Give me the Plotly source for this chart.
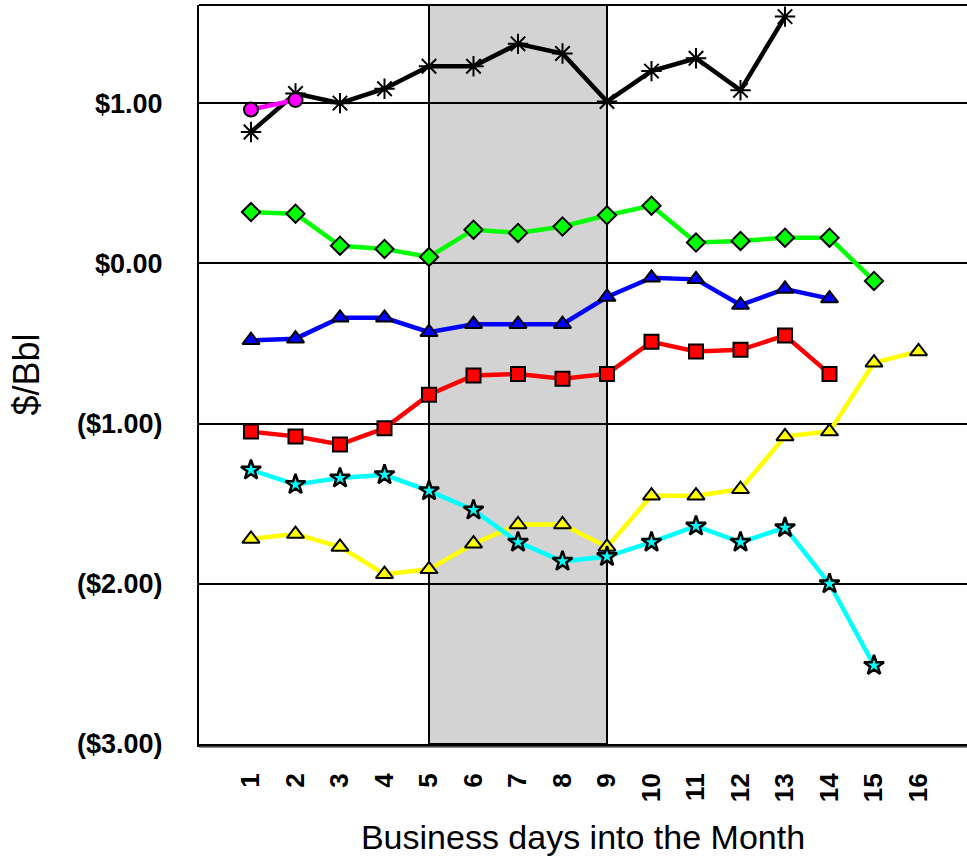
import plotly.graph_objects as go

# Business day index along the x axis
days = list(range(1, 17))
day_labels = [str(d) for d in days]

# Price spreads in $/Bbl by business day
black_vals = [0.82, 1.06, 1.00, 1.09, 1.23, 1.23, 1.37, 1.31, 1.01, 1.20, 1.28, 1.08, 1.54]
magenta_vals = [0.96, 1.02]
green_vals = [0.32, 0.31, 0.11, 0.09, 0.04, 0.21, 0.19, 0.23, 0.30, 0.36, 0.13, 0.14, 0.16, 0.16, -0.11]
blue_vals = [-0.48, -0.47, -0.34, -0.34, -0.43, -0.38, -0.38, -0.38, -0.21, -0.09, -0.10, -0.26, -0.16, -0.22]
red_vals = [-1.05, -1.08, -1.13, -1.03, -0.82, -0.70, -0.69, -0.72, -0.69, -0.49, -0.55, -0.54, -0.45, -0.69]
cyan_vals = [-1.29, -1.38, -1.34, -1.32, -1.42, -1.54, -1.74, -1.86, -1.83, -1.74, -1.64, -1.74, -1.65, -2.00, -2.51]
yellow_vals = [-1.72, -1.69, -1.77, -1.94, -1.91, -1.75, -1.63, -1.63, -1.77, -1.45, -1.45, -1.41, -1.08, -1.05, -0.62, -0.55]

# Value-axis ticks
y_ticks = [1, 0, -1, -2, -3]
y_tick_labels = ["$1.00", "$0.00", "($1.00)", "($2.00)", "($3.00)"]

# Highlighted window of business days
window_start, window_end = 5, 9

FONT = "Liberation Sans, Arial, sans-serif"

series = [
    (yellow_vals, "#FFFF00", "triangle-up", 15, 2),
    (cyan_vals, "#00FFFF", "star", 15, 2.5),
    (red_vals, "#FF0000", "square", 14, 2),
    (blue_vals, "#0000FF", "triangle-up", 15, 2),
    (green_vals, "#00FF00", "diamond", 14, 2),
    (black_vals, "#000000", "asterisk-open", 17, 2),
    (magenta_vals, "#FF00FF", "circle", 14, 2),
]

fig = go.Figure()
for vals, color, symbol, size, edge in series:
    fig.add_trace(go.Scatter(
        x=days[:len(vals)],
        y=vals,
        mode="lines+markers",
        line=dict(color=color, width=4.5),
        marker=dict(symbol=symbol, size=size, color=color,
                    line=dict(color="#000000", width=edge)),
        showlegend=False,
        hoverinfo="x+y",
    ))

x_left = 1 - 52 / 44.5
x_right = 1 + 716 / 44.5

# Gray band over the highlighted days, outlined by vertical rules
fig.add_shape(type="rect", xref="x", yref="paper",
              x0=window_start, x1=window_end, y0=0, y1=1,
              fillcolor="#D3D3D3", line=dict(color="#000000", width=2),
              layer="between")
# Top frame line
fig.add_shape(type="line", xref="paper", yref="paper",
              x0=0, x1=1, y0=1, y1=1,
              line=dict(color="#000000", width=2), layer="above")
# Soft gray shadow under the category axis
fig.add_shape(type="line", xref="paper", yref="paper",
              x0=0, x1=1, y0=-0.0045, y1=-0.0045,
              line=dict(color="#8C8C8C", width=1.5), layer="above")

fig.update_layout(
    width=967, height=862,
    margin=dict(l=199, r=0, t=5, b=118),
    paper_bgcolor="#FFFFFF",
    plot_bgcolor="#FFFFFF",
    font=dict(family=FONT, color="#000000"),
    xaxis=dict(
        range=[x_left, x_right],
        tickmode="array", tickvals=days, ticktext=day_labels,
        tickangle=-90,
        tickfont=dict(size=26, family=FONT, weight="bold"),
        ticklabelstandoff=16,
        showgrid=False, zeroline=False,
        showline=True, linecolor="#000000", linewidth=3,
        ticks="",
        title=dict(text="Business days into the Month",
                   font=dict(size=34, family=FONT),
                   standoff=24),
    ),
    yaxis=dict(
        range=[-3, 1.6125],
        tickmode="array", tickvals=y_ticks, ticktext=y_tick_labels,
        tickfont=dict(size=27, family=FONT, weight="bold"),
        ticklabelstandoff=29,
        showgrid=True, gridcolor="#000000", gridwidth=2,
        zeroline=False,
        showline=True, linecolor="#000000", linewidth=2,
        ticks="",
        title=dict(text="$/Bbl",
                   font=dict(size=36, family=FONT),
                   standoff=26),
    ),
)

fig.write_html("out.html")
